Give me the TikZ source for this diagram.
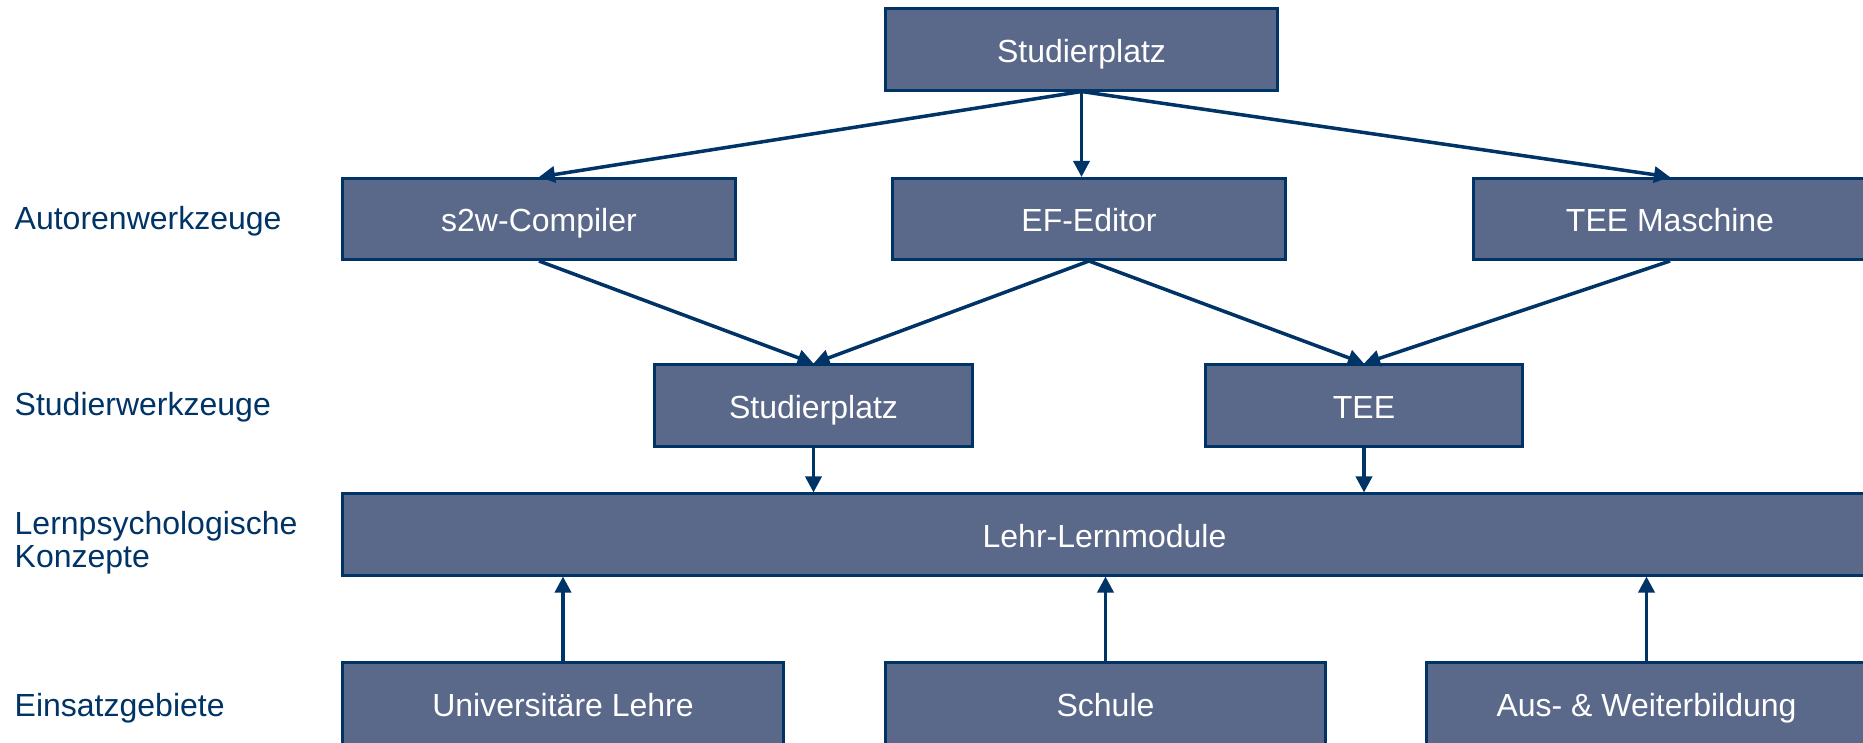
\documentclass[tikz,border=0pt]{standalone}
\usepackage{fontspec}
\setmainfont{Liberation Sans}
\usetikzlibrary{arrows.meta}
\definecolor{cnavy}{HTML}{003366}
\definecolor{cslate}{HTML}{5A6889}

\begin{document}
\begin{tikzpicture}[x=0.01cm,y=-0.01cm,
  box/.style={draw=cnavy,fill=cslate,line width=0.85pt,text=white,
    minimum height=0.81cm,inner sep=0pt,text height=0.32cm,text depth=0.07cm,
    font=\fontsize{9.1}{9.4}\selectfont},
  lbl/.style={anchor=west,inner sep=0pt,text=cnavy,align=left,
    font=\fontsize{9.1}{9.4}\selectfont},
  arr/.style={draw=cnavy,line width=1pt,-{Triangle[length=0.16cm,width=0.16cm]}}]
  \useasboundingbox (0,0) rectangle (1863,742);
  \clip (0,0) rectangle (1863,742);
  \node[box,minimum width=3.91cm] (top) at (1081.5,49.5) {Studierplatz};
  \node[box,minimum width=3.92cm] (s2w) at (539,219) {s2w-Compiler};
  \node[box,minimum width=3.92cm] (ef) at (1089,219) {EF-Editor};
  \node[box,minimum width=3.92cm] (teem) at (1670,219) {TEE Maschine};
  \node[box,minimum width=3.17cm] (stud) at (813.5,405.5) {Studierplatz};
  \node[box,minimum width=3.16cm] (tee) at (1364,405.5) {TEE};
  \node[box,minimum width=15.23cm] (lehr) at (1104.5,534.5) {Lehr-Lernmodule};
  \node[box,minimum width=4.40cm] (uni) at (563,703.5) {Universitäre Lehre};
  \node[box,minimum width=4.39cm] (schule) at (1105.5,703.5) {Schule};
  \node[box,minimum width=4.39cm] (aus) at (1646.5,703.5) {Aus- \& Weiterbildung};
  \node[lbl,text height=0.27cm,text depth=0.07cm] (autor) at (14,219) {Autorenwerkzeuge};
  \node[lbl,text height=0.27cm,text depth=0.07cm] (studw) at (14,405) {Studierwerkzeuge};
  \node[lbl] (lernp) at (14,543) {Lernpsychologische\\Konzepte};
  \node[lbl,text height=0.27cm,text depth=0.07cm] (einsatz) at (14,706) {Einsatzgebiete};
  \draw[arr] (top.south) -- (s2w.north);
  \draw[arr] (top.south) -- (top.south |- ef.north);
  \draw[arr] (top.south) -- (teem.north);
  \draw[arr] (s2w.south) -- (stud.north);
  \draw[arr] (ef.south) -- (stud.north);
  \draw[arr] (ef.south) -- (tee.north);
  \draw[arr] (teem.south) -- (tee.north);
  \draw[arr] (stud.south) -- (stud.south |- lehr.north);
  \draw[arr] (tee.south) -- (tee.south |- lehr.north);
  \draw[arr] (uni.north) -- (uni.north |- lehr.south);
  \draw[arr] (schule.north) -- (schule.north |- lehr.south);
  \draw[arr] (aus.north) -- (aus.north |- lehr.south);
\end{tikzpicture}
\end{document}
